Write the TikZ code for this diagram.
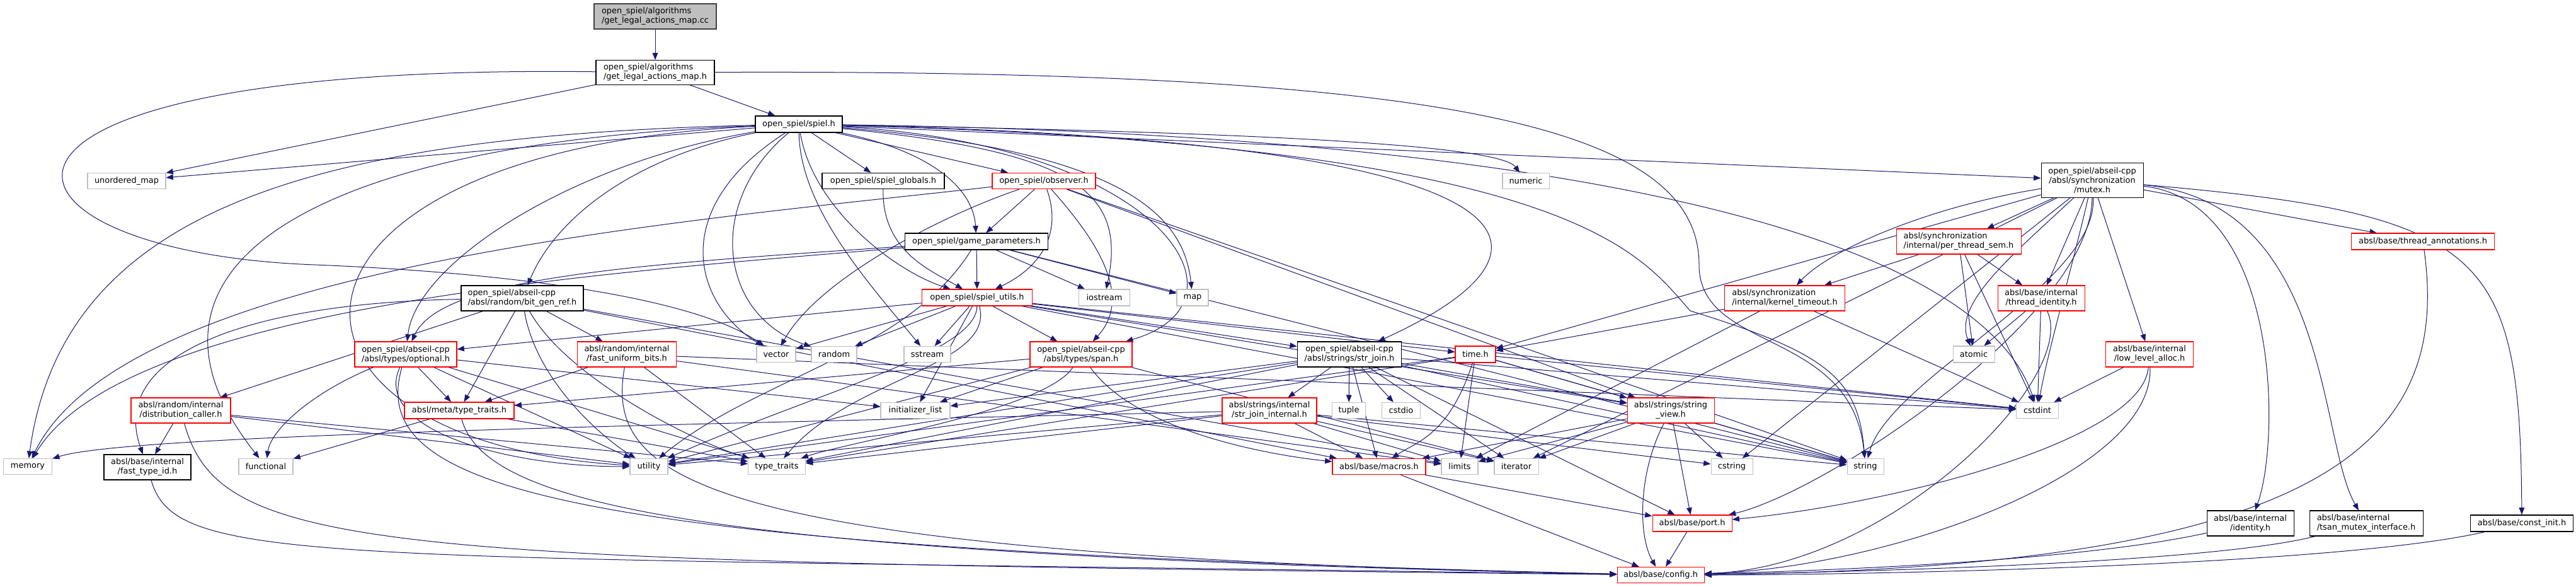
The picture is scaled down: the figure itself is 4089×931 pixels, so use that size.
\documentclass[tikz,border=0pt]{standalone}
\usepackage{fontspec}
\setmainfont{DejaVu Sans}
\usetikzlibrary{arrows.meta}
\definecolor{edgec}{HTML}{191970}
\definecolor{greyb}{HTML}{BFBFBF}
\definecolor{redb}{HTML}{FF0000}
\definecolor{rootf}{HTML}{BFBFBF}
\pgfdeclarelayer{bg}
\pgfsetlayers{bg,main}
\begin{document}
\begin{tikzpicture}[x=0.75pt,y=-0.75pt,
 fn/.style={draw, rectangle, inner sep=0pt, align=center, font=\fontsize{9.7}{11.25}\selectfont, line width=0.8pt, fill=white},
 nb/.style={fn, draw=black},
 nr/.style={fn, draw=redb},
 ng/.style={fn, draw=greyb},
 nroot/.style={fn, draw=black!75, fill=rootf},
 e/.style={draw=edgec, line width=0.75pt, -{Triangle[length=8.5pt,width=6.5pt]}}]
\useasboundingbox (0,0) rectangle (4089,931);
% ---------- nodes ----------
\node[nroot, align=left, minimum width=145.5pt, minimum height=30pt] (root) at (1040,26) {open\_spiel/algorithms\\/get\_legal\_actions\_map.cc};
\node[nb, align=left, minimum width=141pt, minimum height=29pt] (gla) at (1040,115) {open\_spiel/algorithms\\/get\_legal\_actions\_map.h};
\node[nb, minimum width=103.5pt, minimum height=19.5pt] (spiel) at (1268,197) {open\_spiel/spiel.h};
\node[ng, minimum width=93pt, minimum height=19pt] (um) at (201,287) {unordered\_map};
\node[nb, minimum width=145.5pt, minimum height=19pt] (sg) at (1402,287) {open\_spiel/spiel\_globals.h};
\node[nr, minimum width=123pt, minimum height=19pt] (obs) at (1657,287) {open\_spiel/observer.h};
\node[ng, minimum width=55.5pt, minimum height=19pt] (num) at (2422,287) {numeric};
\node[nb, minimum width=121.5pt, minimum height=41pt] (mtx) at (3321,286) {open\_spiel/abseil-cpp\\/absl/synchronization\\/mutex.h};
\node[nb, minimum width=170pt, minimum height=19.5pt] (gp) at (1550,383) {open\_spiel/game\_parameters.h};
\node[nr, align=left, minimum width=148.5pt, minimum height=30pt] (pts) at (3109,383) {absl/synchronization\\/internal/per\_thread\_sem.h};
\node[nr, minimum width=170pt, minimum height=19.5pt] (ta) at (3846,383) {absl/base/thread\_annotations.h};
\node[nb, align=left, minimum width=145.5pt, minimum height=30pt] (bgr) at (829,473) {open\_spiel/abseil-cpp\\/absl/random/bit\_gen\_ref.h};
\node[nr, minimum width=131pt, minimum height=19.5pt] (su) at (1551,472) {open\_spiel/spiel\_utils.h};
\node[ng, minimum width=61pt, minimum height=19.5pt] (ios) at (1753,472) {iostream};
\node[ng, minimum width=37.5pt, minimum height=19.5pt] (map) at (1893,472) {map};
\node[nr, align=left, minimum width=143pt, minimum height=30pt] (kt) at (2833,473) {absl/synchronization\\/internal/kernel\_timeout.h};
\node[nr, minimum width=103.5pt, minimum height=30pt] (ti) at (3240,473) {absl/base/internal\\/thread\_identity.h};
\node[nr, minimum width=121.5pt, minimum height=30pt] (opt) at (644,562) {open\_spiel/abseil-cpp\\/absl/types/optional.h};
\node[nr, minimum width=118pt, minimum height=30pt] (fub) at (995,562) {absl/random/internal\\/fast\_uniform\_bits.h};
\node[ng, minimum width=46.5pt, minimum height=19pt] (vec) at (1232,562) {vector};
\node[ng, minimum width=54pt, minimum height=19pt] (rnd) at (1324,562) {random};
\node[ng, minimum width=55.5pt, minimum height=19pt] (ss) at (1472,562) {sstream};
\node[nr, minimum width=121.5pt, minimum height=30pt] (span) at (1716,562) {open\_spiel/abseil-cpp\\/absl/types/span.h};
\node[nb, minimum width=124pt, minimum height=30pt] (sj) at (2142,562) {open\_spiel/abseil-cpp\\/absl/strings/str\_join.h};
\node[nr, minimum width=48pt, minimum height=19.5pt] (tm) at (2342,562) {time.h};
\node[ng, minimum width=49.5pt, minimum height=19.5pt] (atm) at (3133,562) {atomic};
\node[nr, minimum width=104pt, minimum height=30pt] (lla) at (3412,562) {absl/base/internal\\/low\_level\_alloc.h};
\node[nr, minimum width=118.5pt, minimum height=30pt] (dc) at (287,651) {absl/random/internal\\/distribution\_caller.h};
\node[nr, minimum width=130.5pt, minimum height=19.5pt] (mtt) at (729,651) {absl/meta/type\_traits.h};
\node[ng, minimum width=82.5pt, minimum height=19pt] (il) at (1453,651) {initializer\_list};
\node[nr, minimum width=112.5pt, minimum height=30pt] (sji) at (2015,651) {absl/strings/internal\\/str\_join\_internal.h};
\node[ng, minimum width=40pt, minimum height=19pt] (tup) at (2141,651) {tuple};
\node[ng, minimum width=46pt, minimum height=19pt] (cio) at (2224,651) {cstdio};
\node[nr, minimum width=103.5pt, minimum height=30pt] (sv) at (2652,651) {absl/strings/string\\\_view.h};
\node[ng, minimum width=50pt, minimum height=19pt] (ci) at (3234,651) {cstdint};
\node[ng, minimum width=58pt, minimum height=19pt] (mem) at (44,740) {memory};
\node[nb, minimum width=103.5pt, minimum height=30pt] (fti) at (234,741) {absl/base/internal\\/fast\_type\_id.h};
\node[ng, minimum width=64.5pt, minimum height=19pt] (fun) at (422,740) {functional};
\node[ng, minimum width=45pt, minimum height=19pt] (utl) at (1030,740) {utility};
\node[ng, minimum width=68pt, minimum height=19pt] (tt) at (1233,740) {type\_traits};
\node[nr, minimum width=111pt, minimum height=19pt] (mac) at (2189,740) {absl/base/macros.h};
\node[ng, minimum width=43.5pt, minimum height=19pt] (lim) at (2317,740) {limits};
\node[ng, minimum width=52.5pt, minimum height=19pt] (itr) at (2407,740) {iterator};
\node[ng, minimum width=49.5pt, minimum height=19pt] (cs) at (2749,740) {cstring};
\node[ng, minimum width=43.5pt, minimum height=19pt] (str) at (2961,740) {string};
\node[nr, minimum width=94.5pt, minimum height=19.5pt] (port) at (2686,830) {absl/base/port.h};
\node[nb, minimum width=103.5pt, minimum height=30pt] (idn) at (3572,830) {absl/base/internal\\/identity.h};
\node[nb, align=left, minimum width=135pt, minimum height=30pt] (tsan) at (3756,830) {absl/base/internal\\/tsan\_mutex\_interface.h};
\node[nb, minimum width=122pt, minimum height=19.5pt] (cin) at (4003,830) {absl/base/const\_init.h};
\node[nr, minimum width=103.5pt, minimum height=19pt] (cfg) at (2636,912) {absl/base/config.h};
% ---------- edges ----------
\begin{pgfonlayer}{bg}
\foreach \s/\t in {root/gla, gla/spiel, gla/um,
 spiel/um, spiel/sg, spiel/obs, spiel/mtx,
 obs/gp, obs/sv, obs/str,
 gp/su, gp/ios, gp/map, gp/str,
 su/vec, su/rnd, su/ss, su/span, su/opt, su/sj, su/tm, su/ci, su/str, su/sv, su/il,
 bgr/dc, bgr/mtt, bgr/fub, bgr/lim, bgr/mac,
 dc/fti, dc/utl, dc/tt,
 opt/mtt, opt/il, opt/tt, opt/utl,
 mtt/fun, mtt/tt,
 fub/mtt, fub/tt, fub/lim, fub/ci,
 span/mtt, span/il, span/utl, span/itr,
 sj/sji, sj/tup, sj/cio, sj/itr, sj/mac, sj/str, sj/ci, sj/il, sj/utl, sj/tt, sj/sv, sj/port,
 sji/utl, sji/tt, sji/itr, sji/cs, sji/str, sji/lim, sji/mac,
 tm/lim, tm/sv, tm/str, tm/ci, tm/tt, tm/utl,
 sv/mac, sv/lim, sv/itr, sv/cs, sv/str, sv/port,
 mac/port, mac/cfg, port/cfg,
 kt/tm, kt/ci, kt/lim,
 pts/kt, pts/atm, pts/ti, pts/ci,
 ti/atm, ti/ci, lla/ci,
 mtx/pts, mtx/ti, mtx/lla, mtx/ta, mtx/tm, mtx/cs, mtx/itr}
 \draw[e] (\s) -- (\t);
% curved edges
\draw[e] (gla) .. controls (-150,100) and (-50,400) .. (500,420) .. controls (800,432) and (1100,470) .. (vec);
\draw[e] (gla) .. controls (2300,110) and (2697,200) .. (2697,420) .. controls (2697,560) and (2940,520) .. (str);
\draw[e] (spiel) .. controls (500,215) and (100,330) .. (mem);
\draw[e] (spiel) .. controls (500,225) and (170,420) .. (fun);
\draw[e] (spiel) .. controls (380,240) and (380,700) .. (utl);
\draw[e] (spiel) .. controls (1060,330) and (1100,480) .. (vec);
\draw[e] (spiel) .. controls (1120,320) and (1140,500) .. (rnd);
\draw[e] (spiel) .. controls (1270,330) and (1380,450) .. (ss);
\draw[e] (spiel) .. controls (1290,330) and (1420,430) .. (su);
\draw[e] (spiel) .. controls (1480,240) and (1545,300) .. (gp);
\draw[e] (spiel) .. controls (1000,250) and (880,350) .. (bgr);
\draw[e] (spiel) .. controls (900,260) and (660,420) .. (opt);
\draw[e] (spiel) .. controls (1700,240) and (1790,300) .. (ios);
\draw[e] (spiel) .. controls (1800,240) and (1880,350) .. (map);
\draw[e] (spiel) .. controls (1850,230) and (2000,480) .. (span);
\draw[e] (spiel) .. controls (2000,210) and (2380,230) .. (num);
\draw[e] (spiel) .. controls (2500,225) and (2500,400) .. (sj);
\draw[e] (spiel) .. controls (2500,230) and (2600,400) .. (2683,493) .. controls (2900,560) and (2950,600) .. (str);
\draw[e] (spiel) .. controls (2600,215) and (3150,400) .. (ci);
\draw[e] (obs) .. controls (1100,350) and (200,420) .. (mem);
\draw[e] (obs) .. controls (1500,340) and (1300,440) .. (vec);
\draw[e] (obs) .. controls (1690,380) and (1640,430) .. (su);
\draw[e] (obs) .. controls (1740,380) and (1800,470) .. (span);
\draw[e] (gp) .. controls (1000,420) and (700,440) .. (opt);
\draw[e] (gp) .. controls (1000,430) and (200,480) .. (mem);
\draw[e] (gp) .. controls (1440,560) and (1200,600) .. (utl);
\draw[e] (sg) .. controls (1400,400) and (1480,430) .. (su);
\draw[e] (su) .. controls (1550,560) and (1300,620) .. (utl);
\draw[e] (su) .. controls (1580,580) and (1350,600) .. (tt);
\draw[e] (bgr) .. controls (400,480) and (170,560) .. (fti);
\draw[e] (bgr) .. controls (850,600) and (950,690) .. (utl);
\draw[e] (bgr) .. controls (900,600) and (1100,700) .. (tt);
\draw[e] (dc) .. controls (350,880) and (600,890) .. (cfg);
\draw[e] (fti) .. controls (280,900) and (500,880) .. (cfg);
\draw[e] (opt) .. controls (500,620) and (430,680) .. (fun);
\draw[e] (opt) .. controls (590,680) and (800,740) .. (utl);
\draw[e] (opt) .. controls (580,780) and (900,870) .. (cfg);
\draw[e] (mtt) .. controls (770,800) and (1100,880) .. (cfg);
\draw[e] (fub) .. controls (960,760) and (1100,880) .. (cfg);
\draw[e] (span) .. controls (1660,650) and (1350,700) .. (tt);
\draw[e] (span) .. controls (1800,680) and (2000,720) .. (mac);
\draw[e] (sji) .. controls (1000,675) and (200,690) .. (mem);
\draw[e] (tm) .. controls (2300,690) and (2250,700) .. (mac);
\draw[e] (sv) .. controls (2600,750) and (2600,850) .. (cfg);
\draw[e] (ti) .. controls (3300,600) and (3000,900) .. (cfg);
\draw[e] (lla) .. controls (3400,700) and (3000,800) .. (port);
\draw[e] (lla) .. controls (3420,750) and (3000,900) .. (cfg);
\draw[e] (ta) .. controls (3890,700) and (3700,900) .. (cfg);
\draw[e] (idn) .. controls (3300,890) and (2900,905) .. (cfg);
\draw[e] (tsan) .. controls (3500,895) and (2900,908) .. (cfg);
\draw[e] (cin) .. controls (3700,900) and (2900,912) .. (cfg);
\draw[e] (mtx) .. controls (3200,400) and (3100,480) .. (atm);
\draw[e] (mtx) .. controls (3290,420) and (3250,560) .. (ci);
\draw[e] (mtx) .. controls (3620,320) and (3620,700) .. (idn);
\draw[e] (mtx) .. controls (3700,320) and (3680,700) .. (tsan);
\draw[e] (mtx) .. controls (3950,340) and (4000,400) .. (cin);
\draw[e] (mtx) .. controls (3050,330) and (2900,400) .. (kt);
\draw[e] (mtx) .. controls (3330,450) and (3000,600) .. (str);
\draw[e] (mtx) .. controls (3320,500) and (2900,780) .. (port);
\end{pgfonlayer}
\end{tikzpicture}
\end{document}
